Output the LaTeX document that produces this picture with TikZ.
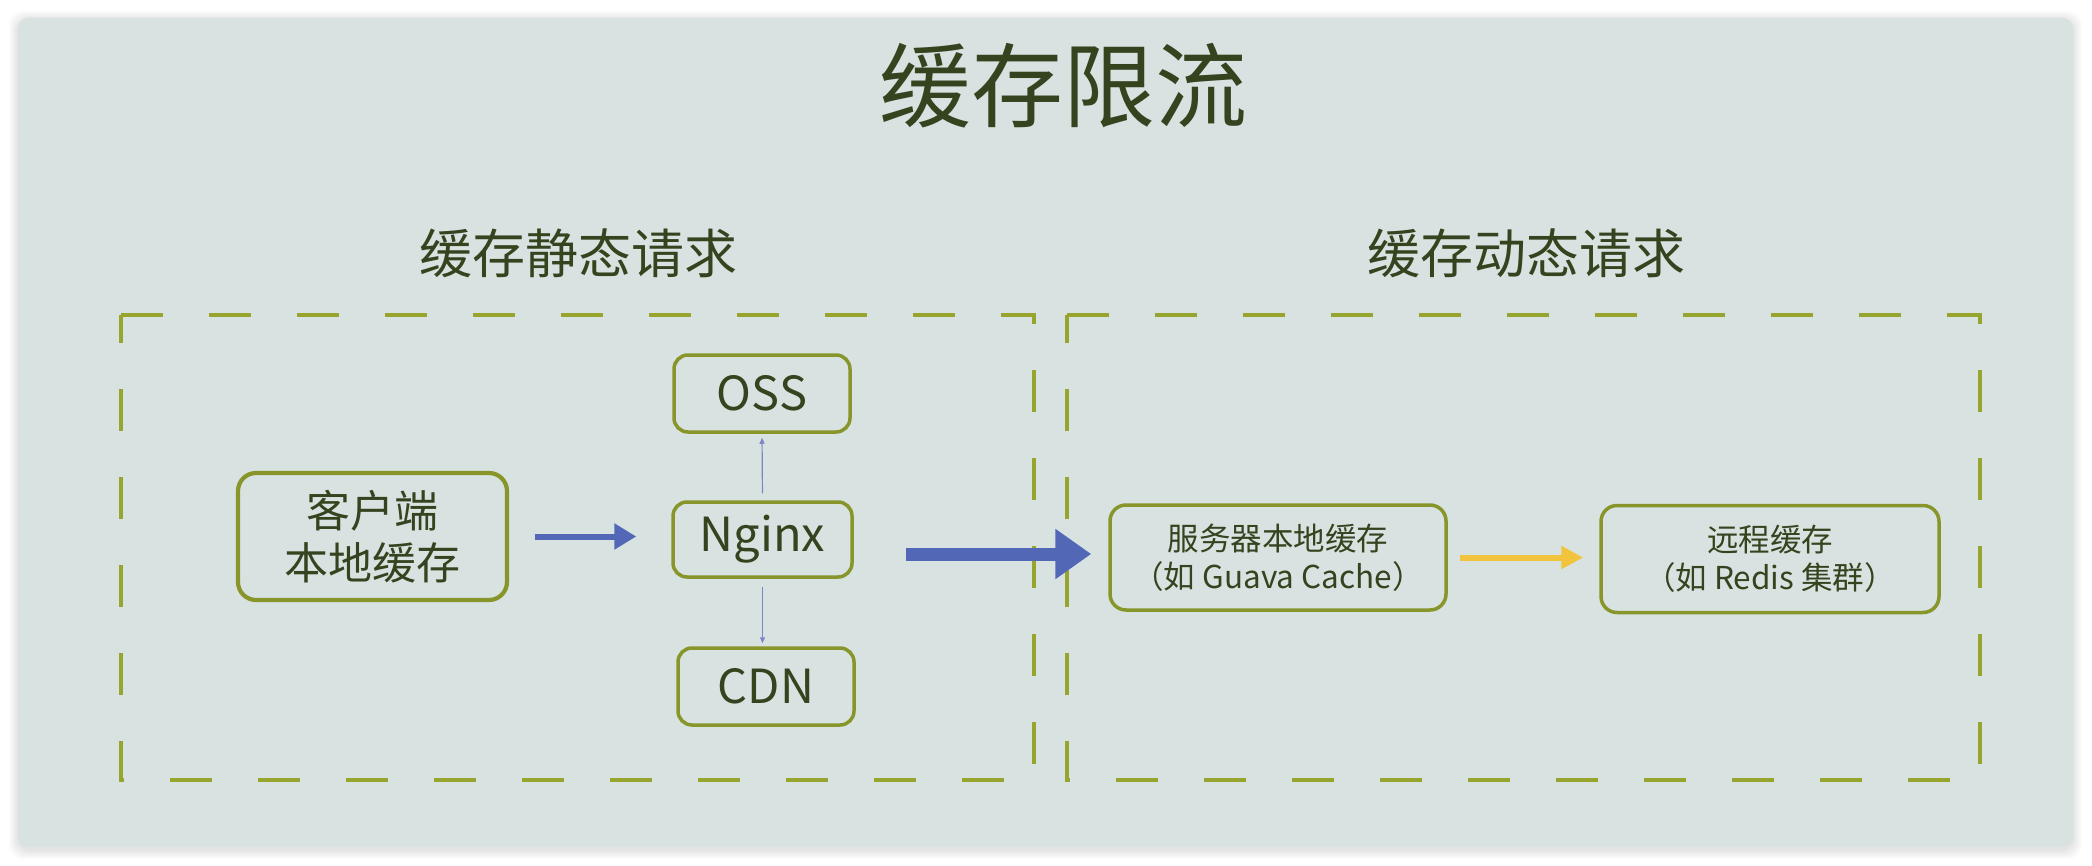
\documentclass[tikz,border=0pt]{standalone}
\usepackage{fontspec}
\setmainfont{Noto Sans CJK SC}
\usetikzlibrary{arrows.meta}
\definecolor{cardbg}{HTML}{D8E3E1}
\definecolor{boxline}{HTML}{87952A}
\definecolor{dashline}{HTML}{97A52E}
\definecolor{txt}{HTML}{36431F}
\definecolor{arrblue}{HTML}{5367B7}
\definecolor{thinblue}{HTML}{7C86C6}
\definecolor{arryel}{HTML}{F2C43E}
\begin{document}
\begin{tikzpicture}[x=1pt,y=-1pt,
  boxbase/.style={draw=boxline, rounded corners=14pt, text=txt, align=center, inner sep=0pt, line width=3.5pt},
  bigbox/.style={boxbase, line width=4.2pt, rounded corners=18pt, font=\fontsize{44}{52}\selectfont},
  smallbox/.style={boxbase, font=\fontsize{47}{56}\selectfont},
  rightbox/.style={boxbase, rounded corners=16pt, font=\fontsize{31.5}{38}\selectfont},
  grouprect/.style={draw=dashline, line width=3.6pt, dash pattern=on 42pt off 46pt},
  titletext/.style={text=txt, inner sep=0pt},
  blue arrow/.style={draw=arrblue, line width=6pt, -{Triangle[length=22pt,width=25pt]}},
  big arrow/.style={draw=arrblue, line width=13pt, -{Triangle[length=36pt,width=48pt]}},
  thin arrow/.style={draw=thinblue, line width=1.2pt, -{Triangle[length=6pt,width=5pt]}},
  yellow arrow/.style={draw=arryel, line width=6pt, -{Triangle[length=22pt,width=22pt]}}
]
\useasboundingbox (0,0) rectangle (2092,866);
\fill[white] (0,0) rectangle (2092,866);
% soft shadow of the card
\foreach \i in {1,...,9}{
  \fill[black, opacity=0.013, rounded corners=14pt] (18-\i,20-\i) rectangle (2073+\i,850+\i);
}
\fill[cardbg, rounded corners=10pt] (18,18) rectangle (2073,847);

% titles
\node[titletext, font=\fontsize{92}{110}\selectfont] (title) at (1063,86) {缓存限流};
\node[titletext, font=\fontsize{53}{64}\selectfont] (leftsub) at (578,253) {缓存静态请求};
\node[titletext, font=\fontsize{53}{64}\selectfont] (rightsub) at (1526,253) {缓存动态请求};

% group frames
\draw[grouprect] (121,315) -- (1034,315) -- (1034,780) -- (121,780) -- cycle;
\draw[grouprect] (1067,315) -- (1980,315) -- (1980,780) -- (1067,780) -- cycle;

% nodes
\node[bigbox, minimum width=269pt, minimum height=127pt] (client) at (372.5,536.5) {客户端\\本地缓存};
\node[smallbox, minimum width=176pt, minimum height=77pt] (oss) at (762,393.5) {OSS};
\node[smallbox, minimum width=179pt, minimum height=75pt] (nginx) at (762.5,539.5) {Nginx};
\node[smallbox, minimum width=176pt, minimum height=77pt] (cdn) at (766,686.5) {CDN};
\node[rightbox, minimum width=336pt, minimum height=105pt] (srv) at (1278,557.5) {服务器本地缓存\\（如 Guava Cache）};
\node[rightbox, minimum width=338pt, minimum height=107pt] (remote) at (1770,559) {远程缓存\\（如 Redis 集群）};

\coordinate (bigstart) at (906,554);

% connectors
\draw[blue arrow, shorten <=26pt, shorten >=35pt] (client.east) -- (client.east -| nginx.west);
\draw[thin arrow, shorten <=7pt, shorten >=4pt] (nginx.north) -- (oss.south);
\draw[thin arrow, shorten <=8pt, shorten >=3pt] (nginx.south) -- (nginx.south |- cdn.north);
\draw[big arrow, shorten >=17pt] (bigstart) -- (bigstart -| srv.west);
\draw[yellow arrow, shorten <=12pt, shorten >=16pt] (srv.east) -- (srv.east -| remote.west);
\end{tikzpicture}
\end{document}
